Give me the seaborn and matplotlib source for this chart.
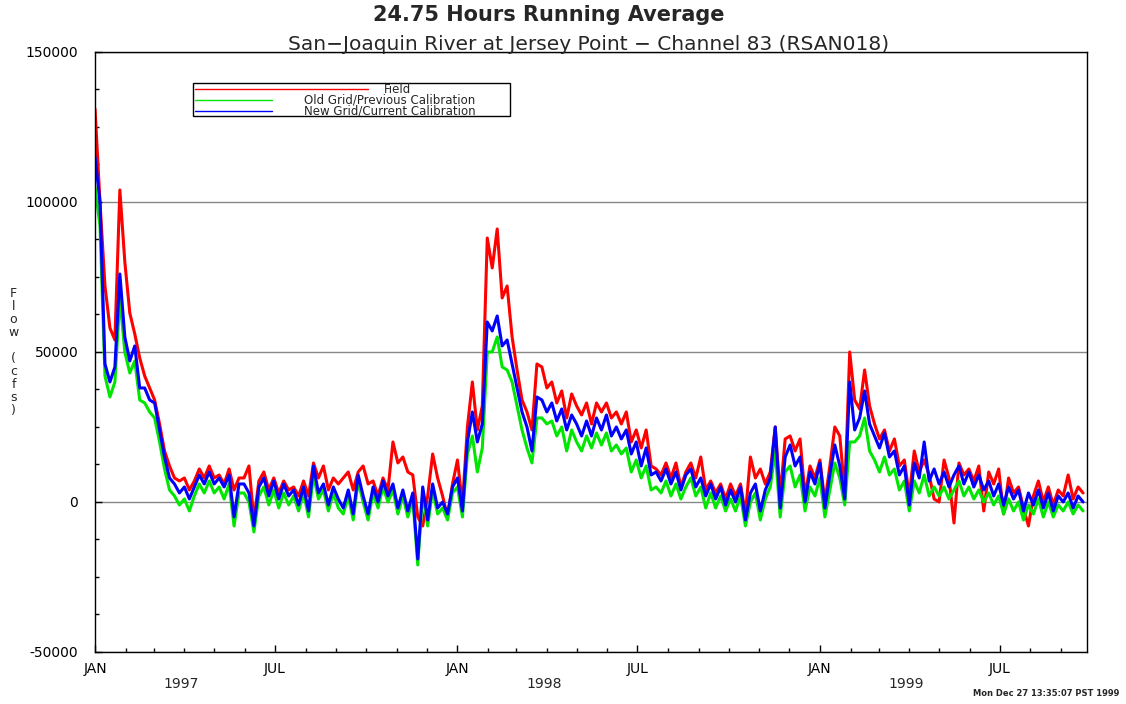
import numpy as np
import pandas as pd
import matplotlib
matplotlib.use('Agg')
import matplotlib.pyplot as plt
import matplotlib.dates as mdates
import seaborn as sns

sns.set_style('ticks')
plt.rcParams['font.family'] = ['DejaVu Sans']

# %% Data: 5-day samples starting 1 Jan 1997, flow in 1000 cfs
field = [
    131, 100, 72, 58, 54, 104, 80, 63, 56, 48,
    42, 38, 34, 26, 17, 12, 8, 7, 8, 4,
    7, 11, 8, 12, 8, 9, 6, 11, 4, 8,
    8, 12, -6, 7, 10, 4, 8, 3, 7, 4,
    5, 2, 7, 2, 13, 8, 12, 4, 8, 6,
    8, 10, 4, 10, 12, 6, 7, 2, 8, 4,
    20, 13, 15, 10, 9, -5, -8, 2, 16, 8,
    2, -5, 6, 14, -1, 25, 40, 24, 32, 88,
    78, 91, 68, 72, 55, 44, 34, 30, 24, 46,
    45, 38, 40, 33, 37, 28, 36, 32, 29, 33,
    26, 33, 30, 33, 28, 30, 26, 30, 20, 24,
    18, 24, 12, 11, 9, 13, 8, 13, 5, 10,
    13, 8, 15, 4, 7, 3, 6, 1, 6, 2,
    6, -4, 15, 8, 11, 6, 10, 25, 2, 21,
    22, 17, 21, 2, 12, 8, 14, 0, 12, 25,
    22, 3, 50, 34, 31, 44, 32, 26, 21, 24,
    17, 21, 12, 14, 2, 17, 10, 14, 9, 1,
    0, 14, 8, -7, 13, 9, 11, 7, 12, -3,
    10, 6, 11, -4, 8, 3, 5, -2, -8, 2,
    7, 0, 5, -1, 4, 2, 9, 1, 5, 3,
]
old_grid = [
    105, 92, 42, 35, 40, 68, 50, 43, 47, 34,
    33, 30, 28, 20, 11, 4, 2, -1, 1, -3,
    2, 6, 3, 7, 3, 5, 1, 6, -8, 3,
    3, 0, -10, 2, 5, -1, 4, -2, 3, -1,
    2, -3, 3, -5, 9, 1, 4, -3, 3, -2,
    -4, 2, -6, 7, 0, -6, 3, -2, 5, 0,
    4, -4, 2, -5, 1, -21, 3, -8, 4, -4,
    -2, -6, 3, 5, -5, 16, 22, 10, 18, 50,
    50, 55, 45, 44, 40, 32, 24, 18, 13, 28,
    28, 26, 27, 22, 25, 17, 24, 20, 17, 22,
    18, 23, 19, 23, 17, 19, 16, 18, 10, 14,
    8, 12, 4, 5, 3, 7, 2, 6, 1, 5,
    8, 2, 5, -2, 3, -2, 2, -3, 1, -3,
    2, -8, 0, 3, -6, 1, 5, 17, -5, 10,
    12, 5, 9, -3, 5, 2, 8, -5, 4, 13,
    8, -1, 20, 20, 22, 28, 17, 14, 10, 15,
    9, 11, 4, 7, -3, 7, 3, 9, 2, 5,
    2, 5, 1, 4, 7, 2, 5, 1, 4, 0,
    3, -1, 2, -4, 1, -3, 0, -6, -1, -4,
    1, -5, 0, -5, -1, -3, 0, -4, -1, -3,
]
new_grid = [
    115, 100, 46, 40, 45, 76, 55, 47, 52, 38,
    38, 34, 33, 24, 15, 8, 6, 3, 5, 1,
    5, 9, 6, 10, 6, 8, 5, 9, -5, 6,
    6, 3, -8, 5, 8, 2, 7, 1, 6, 2,
    4, -1, 5, -3, 12, 3, 6, -1, 5, 1,
    -2, 4, -4, 9, 2, -4, 5, 0, 7, 2,
    6, -2, 4, -3, 3, -19, 5, -6, 6, -2,
    0, -4, 5, 8, -3, 20, 30, 20, 26, 60,
    57, 62, 52, 54, 46, 38, 30, 25, 17, 35,
    34, 30, 33, 27, 31, 24, 29, 26, 22, 27,
    22, 28, 24, 29, 22, 25, 21, 24, 16, 20,
    12, 18, 9, 10, 7, 11, 6, 10, 4, 9,
    11, 5, 8, 2, 6, 1, 5, -1, 4, 0,
    5, -6, 3, 6, -3, 4, 8, 25, -2, 15,
    19, 12, 15, 0, 10, 6, 13, -2, 9, 19,
    12, 1, 40, 24, 28, 37, 26, 22, 18, 23,
    15, 17, 9, 12, -1, 13, 8, 20, 7, 11,
    6, 10, 5, 9, 12, 6, 10, 5, 9, 4,
    7, 2, 6, -1, 5, 1, 4, -3, 3, -1,
    4, -2, 3, -3, 2, 0, 3, -2, 2, 0,
]

series_names = ['Field', 'Old Grid/Previous Calibration', 'New Grid/Current Calibration']
series_colors = ['#ff0000', '#00e600', '#0000ff']
years = [1997, 1998, 1999]
y_ticks = [-50000, 0, 50000, 100000, 150000]

dates = pd.date_range('1997-01-01', periods=len(new_grid), freq='5D')
df = pd.DataFrame({
    'date': dates,
    series_names[0]: np.array(field) * 1000,
    series_names[1]: np.array(old_grid) * 1000,
    series_names[2]: np.array(new_grid) * 1000,
})
long_df = df.melt(id_vars='date', var_name='series', value_name='flow')

# %% Plot
fig = plt.figure(figsize=(11.26, 7.04), dpi=100)
ax = fig.add_axes([0.0844, 0.0739, 0.881, 0.8523])

sns.lineplot(data=long_df, x='date', y='flow', hue='series', hue_order=series_names,
             palette=series_colors, estimator=None, linewidth=2.2, legend=False, ax=ax)

ax.set_xlim(pd.Timestamp('1997-01-01'), pd.Timestamp('1999-09-27'))
ax.set_ylim(-50000, 150000)
ax.set_yticks(y_ticks)
ax.set_yticklabels([f'{v:d}' for v in y_ticks])
ax.yaxis.set_minor_locator(plt.MultipleLocator(12500))
ax.grid(axis='y', color='#888888', linewidth=1)
ax.set_axisbelow(True)

ax.xaxis.set_major_locator(mdates.MonthLocator(bymonth=[1, 7]))
ax.xaxis.set_minor_locator(mdates.MonthLocator())
ax.xaxis.set_major_formatter(plt.FuncFormatter(
    lambda x, pos: 'JAN' if mdates.num2date(x).month == 1 else 'JUL'))

ax.tick_params(axis='both', which='both', direction='in', colors='black', labelsize=10)
ax.tick_params(axis='both', which='major', length=5, width=1)
ax.tick_params(axis='both', which='minor', length=3, width=1)
ax.tick_params(axis='y', pad=12)
ax.tick_params(axis='x', pad=7)
ax.set_xlabel('')
ax.set_ylabel('')
for sp in ax.spines.values():
    sp.set_color('black')
    sp.set_linewidth(1)

for yr in years:
    ax.text(pd.Timestamp(f'{yr}-03-29'), -0.041, str(yr), transform=ax.get_xaxis_transform(),
            ha='center', va='top', fontsize=10)

# legend drawn as a plain box like the original
box = plt.Rectangle((0.0988, 0.893), 0.3195, 0.055, transform=ax.transAxes,
                    facecolor='white', edgecolor='black', linewidth=1, zorder=5)
ax.add_patch(box)
leg_rows = [(0.938, 0.275, 0.305), (0.920, 0.178, 0.297), (0.902, 0.178, 0.297)]
for (yy, x1, xt), name, col in zip(leg_rows, series_names, series_colors):
    ax.plot([0.1008, x1], [yy, yy], transform=ax.transAxes, color=col, linewidth=1, zorder=6)
    ax.text(xt, yy, name, transform=ax.transAxes, ha='center', va='center',
            fontsize=8.5, zorder=6)

fig.text(0.487, 0.978, '24.75 Hours Running Average', ha='center', va='center',
         fontsize=15, fontweight='bold')
fig.text(0.523, 0.937, 'San\u2212Joaquin River at Jersey Point \u2212 Channel 83 (RSAN018)',
         ha='center', va='center', fontsize=14.5)
fig.text(0.012, 1 - 352 / 704, '\n'.join('Flow (cfs)'), ha='center', va='center',
         fontsize=9, linespacing=1.0)
fig.text(0.994, 0.008, 'Mon Dec 27 13:35:07 PST 1999', ha='right', va='bottom',
         fontsize=6, fontweight='bold')

fig.savefig('out.png', dpi=100)
